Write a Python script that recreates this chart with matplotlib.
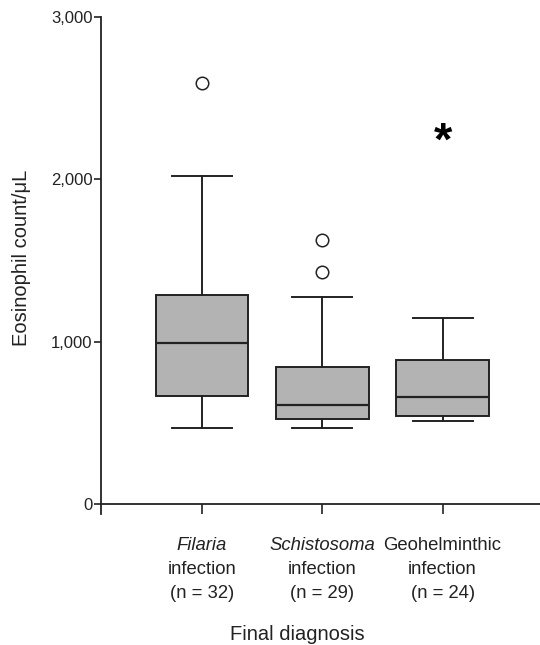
import matplotlib
matplotlib.use("Agg")
import matplotlib.pyplot as plt
import matplotlib.transforms as mtransforms

plt.rcParams['font.family'] = ['Liberation Sans', 'DejaVu Sans']

groups = ["Filaria", "Schistosoma", "Geohelminthic"]
group_italic = [True, True, False]
n_values = [32, 29, 24]
whislo = [468, 470, 511]
q1 = [665, 524, 542]
med = [992, 610, 659]
q3 = [1288, 844, 887]
whishi = [2021, 1275, 1146]
fliers = [[2594], [1429, 1627], []]
star_y = 2292
yticks = [0, 1000, 2000, 3000]
ytick_labels = ["0", "1,000", "2,000", "3,000"]

fig = plt.figure(figsize=(5.4, 6.45), dpi=100)
ax = fig.add_axes([101/540, 1-504/645, 1-101/540, (504-17)/645])

stats = []
for i in range(len(groups)):
    stats.append(dict(whislo=whislo[i], q1=q1[i], med=med[i], q3=q3[i],
                      whishi=whishi[i], fliers=fliers[i]))

pos = [1, 2, 3]
ax.bxp(stats, positions=pos, widths=0.77, patch_artist=True, showfliers=True,
       boxprops=dict(facecolor='#b3b3b3', edgecolor='#222222', linewidth=1.4),
       medianprops=dict(color='#222222', linewidth=1.6),
       whiskerprops=dict(color='#222222', linewidth=1.4),
       capprops=dict(color='#222222', linewidth=1.4),
       capwidths=0.5,
       flierprops=dict(marker='o', markersize=9, markerfacecolor='white',
                       markeredgecolor='#222222', markeredgewidth=1.1))

ax.annotate('*', xy=(3, star_y), xytext=(0, -8), textcoords='offset points',
            ha='center', va='center', fontsize=34, fontweight='bold', color='black')

ax.set_xlim(0.16, 3.81)
ax.set_ylim(0, 3000)
ax.set_yticks(yticks)
ax.set_yticklabels(ytick_labels, fontsize=12, color='#222222')
ax.set_xticks(pos)
ax.set_xticklabels([])
ax.tick_params(axis='y', direction='out', length=5, width=1.2, pad=1, colors='#222222')
ax.tick_params(axis='x', direction='out', length=7, width=1.2, colors='#222222')
for s in ['top', 'right']:
    ax.spines[s].set_visible(False)
for s in ['left', 'bottom']:
    ax.spines[s].set_linewidth(1.3)
    ax.spines[s].set_color('#222222')
ax.spines['left'].set_bounds(-60, 3000)
ax.patch.set_alpha(0)

trans = mtransforms.blended_transform_factory(ax.transData, fig.transFigure)
for i, g in enumerate(groups):
    ax.text(pos[i], 1-545/645, g, transform=trans, ha='center', va='center',
            fontsize=13.3, style='italic' if group_italic[i] else 'normal', color='#222222')
    ax.text(pos[i], 1-569/645, "infection", transform=trans, ha='center', va='center',
            fontsize=13.3, color='#222222')
    ax.text(pos[i], 1-593/645, f"(n = {n_values[i]})", transform=trans, ha='center',
            va='center', fontsize=13.3, color='#222222')

fig.text(297/540, 1-634/645, "Final diagnosis", ha='center', va='center',
         fontsize=14.5, color='#222222')
fig.text(22/540, 1-258/645, "Eosinophil count/\u03bcL", ha='center', va='center',
         rotation=90, fontsize=14.5, color='#222222')

fig.savefig("out.png", dpi=100)
